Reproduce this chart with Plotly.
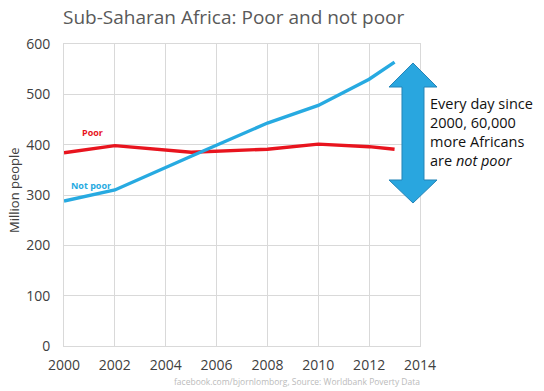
import plotly.graph_objects as go

years = [2000, 2002, 2005, 2008, 2010, 2012, 2013]
poor = [384, 398, 385, 391, 401, 396, 391]
not_poor = [288, 310, 377, 443, 478, 530, 564]

W, H = 544, 391
L, R, T, B = 64, 420, 44, 346

def px(x):
    return (x - L) / (R - L)

def py(y):
    return (B - y) / (B - T)

fig = go.Figure()
fig.add_trace(go.Scatter(x=years, y=poor, mode="lines", name="Poor",
                         line=dict(color="#E8141E", width=3.4), showlegend=False))
fig.add_trace(go.Scatter(x=years, y=not_poor, mode="lines", name="Not poor",
                         line=dict(color="#27AAE1", width=3.4), showlegend=False))

font = "Open Sans, Lato, sans-serif"

# double-headed arrow
pts = [(413, 63), (437, 87), (424, 87), (424, 180), (437, 180), (413, 203),
       (389, 180), (402, 180), (402, 87), (389, 87)]
path = "M " + " L ".join(f"{px(a):.4f},{py(b):.4f}" for a, b in pts) + " Z"
fig.add_shape(type="path", path=path, xref="paper", yref="paper",
              fillcolor="#29A6DF", line=dict(color="#2484B8", width=1))

fig.add_annotation(x=px(428), y=py(132), xref="paper", yref="paper",
                   xanchor="left", yanchor="middle", align="left", showarrow=False,
                   text="Every day since<br>2000, 60,000<br>more Africans<br>are <i>not poor</i>",
                   font=dict(family=font, size=14.5, color="#111111"))
fig.add_annotation(x=px(92), y=py(132), xref="paper", yref="paper", showarrow=False,
                   xanchor="center", yanchor="middle",
                   text="<b>Poor</b>", font=dict(family=font, size=9, color="#E8141E"))
fig.add_annotation(x=px(91), y=py(185), xref="paper", yref="paper", showarrow=False,
                   xanchor="center", yanchor="middle",
                   text="<b>Not poor</b>", font=dict(family=font, size=9, color="#27AAE1"))
fig.add_annotation(x=px(422), y=py(381), xref="paper", yref="paper", showarrow=False,
                   xanchor="right", yanchor="middle",
                   text="facebook.com/bjornlomborg, Source: Worldbank Poverty Data",
                   font=dict(family=font, size=8.5, color="#BBBBBB"))
fig.add_annotation(x=px(14), y=py(190), xref="paper", yref="paper", showarrow=False,
                   xanchor="center", yanchor="middle", textangle=-90,
                   text="Million people", font=dict(family=font, size=13, color="#404040"))

fig.update_layout(
    width=W, height=H,
    margin=dict(l=L, r=W - R, t=T, b=H - B),
    paper_bgcolor="white", plot_bgcolor="white",
    title=dict(text="Sub-Saharan Africa: Poor and not poor", x=63 / W, xref="container",
               xanchor="left", y=1 - 17 / H, yref="container", yanchor="middle",
               font=dict(family=font, size=19, color="#595959")),
    xaxis=dict(range=[2000, 2014], dtick=2, tick0=2000, showgrid=True, gridcolor="#D9D9D9",
               gridwidth=1, showline=True, linecolor="#D9D9D9", mirror=True, zeroline=False,
               tickfont=dict(family=font, size=14, color="#404040"), ticks="",
               ticklabelstandoff=6),
    yaxis=dict(range=[0, 600], dtick=100, showgrid=True, gridcolor="#D9D9D9", gridwidth=1,
               showline=True, linecolor="#D9D9D9", mirror=True, zeroline=False,
               tickfont=dict(family=font, size=14, color="#404040"), ticks="",
               ticklabelstandoff=10),
)

fig.write_html("out.html", config={"displayModeBar": False},
               post_script="document.body.style.margin='0';")
